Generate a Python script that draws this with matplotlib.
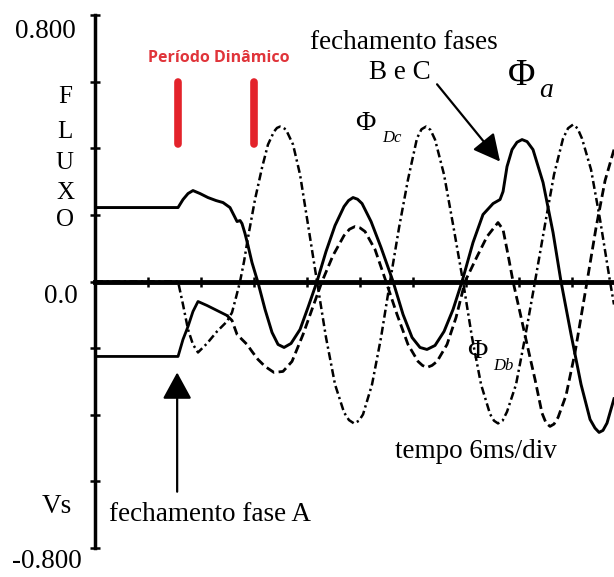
import numpy as np
import matplotlib.pyplot as plt

plt.rcParams['font.family'] = ['Liberation Serif', 'DejaVu Serif']

# tempo em ms (6 ms/div) e fluxo em pu
t_a = [0, 9.40, 9.96, 10.53, 11.09, 11.89, 12.79, 13.70, 14.49, 15.28, 15.74, 16.08,
       16.42, 16.64, 16.98, 17.32, 17.77, 18.45, 19.25, 20.04, 20.72, 21.40, 22.19,
       23.21, 24.11, 25.13, 26.15, 27.17, 28.19, 28.70, 29.21, 29.72, 30.23, 31.25,
       32.38, 33.74, 34.87, 35.89, 36.79, 37.58, 38.49, 39.51, 40.53, 41.55, 42.79,
       43.92, 45.06, 45.85, 46.19, 46.64, 47.21, 47.77, 48.34, 48.91, 49.58, 50.72,
       51.85, 52.75, 53.89, 55.02, 56.04, 56.60, 57.06, 57.50, 57.96, 58.75]
phi_a = [0.222, 0.222, 0.246, 0.264, 0.273, 0.264, 0.252, 0.243, 0.237, 0.222, 0.198,
         0.180, 0.183, 0.174, 0.144, 0.108, 0.057, -0.003, -0.084, -0.153, -0.189,
         -0.198, -0.186, -0.144, -0.078, 0.0, 0.090, 0.168, 0.225, 0.243, 0.252, 0.247,
         0.234, 0.180, 0.102, 0.0, -0.099, -0.168, -0.198, -0.204, -0.192, -0.150,
         -0.084, 0.0, 0.117, 0.201, 0.234, 0.246, 0.270, 0.345, 0.396, 0.418, 0.426,
         0.420, 0.396, 0.297, 0.147, 0.0, -0.159, -0.309, -0.414, -0.440, -0.453,
         -0.447, -0.425, -0.352]

t_b = [0, 9.40, 9.96, 10.53, 11.09, 11.66, 12.68, 13.81, 14.94, 15.51, 16.08, 16.64,
       17.21, 17.77, 18.45, 19.25, 20.26, 21.28, 22.30, 23.55, 24.68, 25.70, 26.94,
       28.19, 28.81, 29.43, 30.00, 30.57, 31.70, 32.94, 34.19, 35.43, 36.57, 37.07,
       37.58, 38.15, 38.72, 39.85, 40.87, 41.89, 43.25, 44.38, 45.62, 46.19, 46.75,
       47.32, 48.11, 48.91, 49.81, 50.60, 51.06, 51.51, 51.96, 52.42, 53.32, 54.34,
       55.70, 56.72, 57.74, 58.75]
phi_b = [-0.225, -0.225, -0.174, -0.135, -0.090, -0.060, -0.072, -0.087, -0.102,
         -0.117, -0.159, -0.174, -0.189, -0.210, -0.234, -0.255, -0.273, -0.270, -0.240,
         -0.159, -0.075, 0.0, 0.078, 0.138, 0.157, 0.165, 0.161, 0.150, 0.096, 0.0,
         -0.099, -0.189, -0.240, -0.252, -0.258, -0.252, -0.240, -0.189, -0.108, 0.0,
         0.075, 0.135, 0.177, 0.156, 0.081, 0.0, -0.093, -0.189, -0.294, -0.395,
         -0.425, -0.435, -0.428, -0.408, -0.342, -0.213, 0.0, 0.162, 0.303, 0.396]

t_c = [0, 9.40, 9.96, 10.53, 11.09, 11.66, 12.68, 13.81, 14.94, 15.51, 15.96, 16.42,
       16.87, 17.32, 18.11, 18.91, 19.58, 20.26, 20.60, 20.94, 21.28, 21.62, 22.42,
       23.21, 24.11, 25.13, 26.15, 27.17, 28.19, 28.75, 29.32, 29.88, 30.34, 31.36,
       32.38, 33.40, 34.42, 35.43, 36.45, 36.96, 37.47, 37.98, 38.49, 39.51, 40.53,
       41.66, 42.68, 43.70, 44.72, 45.17, 45.62, 46.13, 46.64, 47.66, 48.68, 49.81,
       50.94, 51.96, 52.98, 53.55, 54.11, 54.62, 55.13, 56.15, 57.17, 58.30, 58.75]
phi_c = [0.0, 0.0, -0.069, -0.144, -0.189, -0.213, -0.186, -0.150, -0.120, -0.093,
         -0.048, 0.0, 0.060, 0.132, 0.246, 0.342, 0.411, 0.450, 0.461, 0.465, 0.462,
         0.456, 0.411, 0.321, 0.171, 0.0, -0.168, -0.309, -0.393, -0.416, -0.426,
         -0.418, -0.399, -0.309, -0.168, 0.0, 0.162, 0.306, 0.430, 0.457, 0.465, 0.455,
         0.426, 0.321, 0.171, 0.0, -0.168, -0.309, -0.398, -0.418, -0.426, -0.418,
         -0.391, -0.309, -0.168, 0.0, 0.171, 0.321, 0.429, 0.460, 0.471, 0.460, 0.429,
         0.336, 0.186, 0.0, -0.069]

periodo_dinamico = [9.4, 18.0]   # inicio / fim do periodo dinamico (ms)
fecha_a = 9.3                    # fechamento fase A
fecha_bc = 45.85                 # fechamento fases B e C

fig = plt.figure(figsize=(6.14, 5.77), dpi=100)
ax = fig.add_axes([95/614, 29/577, 519/614, 533/577])
ax.set_xlim(0, 58.75)
ax.set_ylim(-0.8, 0.8)

# eixos
for s in ['top', 'right']:
    ax.spines[s].set_visible(False)
ax.spines['left'].set_linewidth(2.5)
ax.spines['bottom'].set_position(('data', 0))
ax.spines['bottom'].set_linewidth(3.5)
ax.set_xticks(np.arange(0, 58, 6))
ax.set_yticks(np.arange(-0.8, 0.81, 0.2))
ax.tick_params(direction='inout', length=7, width=1.8, labelbottom=False, labelleft=False)

# curvas de fluxo
ta, pa = np.array(t_a), np.array(phi_a)
tb, pb = np.array(t_b), np.array(phi_b)
tc, pc = np.array(t_c), np.array(phi_c)
ax.plot(ta, pa, '-', color='black', lw=2.1, solid_joinstyle='round')
m = tb <= 15.0
k = m.sum()
ax.plot(tb[:k], pb[:k], '-', color='black', lw=2.0)
ax.plot(tb[k - 1:], pb[k - 1:], color='black', lw=2.0, linestyle=(0, (3.2, 1.6)))
ax.plot(tc, pc, color='black', lw=1.8, linestyle=(0, (3.2, 1.4, 0.9, 1.4)))

# rotulos do eixo
fs = 19.5
ax.text(-5.66, 0.751, '0.800', fontsize=fs, ha='center', va='center', clip_on=False)
ax.text(-3.85, -0.045, '0.0', fontsize=fs, ha='center', va='center', clip_on=False)
ax.text(-5.43, -0.841, '-0.800', fontsize=fs, ha='center', va='center', clip_on=False)
for letra, y in zip('FLUXO', [0.553, 0.450, 0.357, 0.267, 0.186]):
    ax.text(-3.40, y, letra, fontsize=18, ha='center', va='center', clip_on=False)
ax.text(-4.30, -0.676, 'Vs', fontsize=fs, ha='center', va='center', clip_on=False)

# periodo dinamico
ax.vlines(periodo_dinamico, 0.412, 0.598, color='#e3232b', lw=5.5, capstyle='round')
ax.text(14.0, 0.670, 'Período Dinâmico', family='Open Sans', weight='bold',
        fontsize=11.5, color='#e0343a', ha='center', va='center')

# legendas das curvas
ax.text(48.34, 0.619, 'Φ', fontsize=27, ha='center', va='center')
ax.text(51.06, 0.574, 'a', fontsize=20, style='italic', ha='center', va='center')
ax.text(30.57, 0.474, 'Φ', fontsize=20, ha='center', va='center')
ax.text(33.62, 0.432, 'Dc', fontsize=12, style='italic', ha='center', va='center')
ax.text(43.25, -0.210, 'Φ', fontsize=20, ha='center', va='center')
ax.text(46.19, -0.255, 'Db', fontsize=12, style='italic', ha='center', va='center')
ax.text(43.13, -0.511, 'tempo 6ms/div', fontsize=fs, ha='center', va='center')

# anotacoes com setas
ax.text(34.98, 0.718, 'fechamento fases', fontsize=fs, ha='center', va='center')
ax.text(34.53, 0.628, 'B e C', fontsize=fs, ha='center', va='center')
ax.annotate('', xy=(fecha_bc, 0.360), xytext=(38.72, 0.592),
            arrowprops=dict(arrowstyle='-|>,head_length=0.55,head_width=0.28',
                            mutation_scale=30, lw=1.6, color='black',
                            shrinkA=0, shrinkB=0))
ax.text(13.02, -0.700, 'fechamento fase A', fontsize=fs, ha='center', va='center')
ax.annotate('', xy=(fecha_a, -0.273), xytext=(fecha_a, -0.631),
            arrowprops=dict(arrowstyle='-|>,head_length=0.55,head_width=0.3',
                            mutation_scale=30, lw=1.6, color='black',
                            shrinkA=0, shrinkB=0))

fig.savefig('out.png', dpi=100)
